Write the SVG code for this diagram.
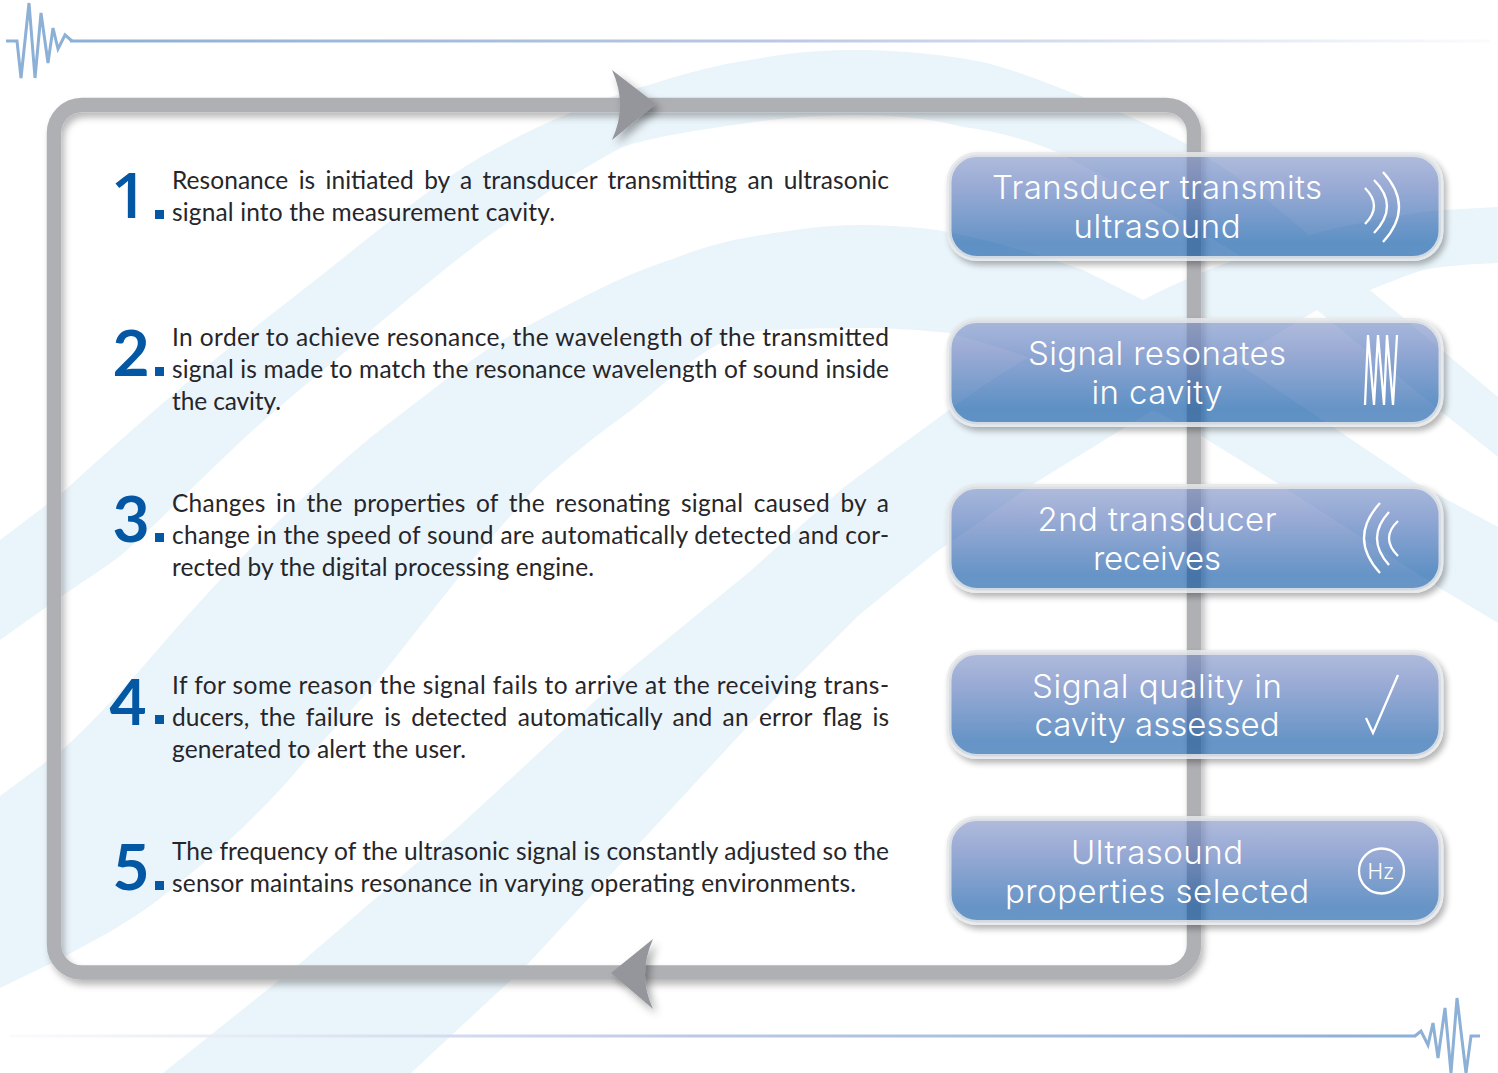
<svg xmlns="http://www.w3.org/2000/svg" width="1498" height="1073" viewBox="0 0 1498 1073">
<defs>
<style>
.bg{fill:#eaf5fb}
.t{font-family:"Lato","Noto Sans",sans-serif;font-size:24.5px;fill:#26262a}
.n{font-family:"Lato","Noto Sans",sans-serif;font-size:64px;font-weight:700;fill:#0457a3;text-anchor:middle}
.b{font-family:"Inter","Lato",sans-serif;font-size:33px;font-weight:300;fill:#fff;text-anchor:middle}
.sq{fill:#0457a3}
.ic{fill:none;stroke:#fff;stroke-width:2.3}
.frame{fill:none;stroke:#afb0b4;stroke-width:14.5}
.box{fill:url(#bf);stroke:#e4e6e8;stroke-opacity:.85;stroke-width:5}
.bs{fill:#000;filter:url(#outer)}
.w{fill:none;stroke:#8cb0d6;stroke-width:3;stroke-linejoin:miter}
</style>
<linearGradient id="bf" x1="0" y1="0" x2="0" y2="1"><stop offset="0" stop-color="#7b8fc5" stop-opacity=".6"/><stop offset=".3" stop-color="#5773b9" stop-opacity=".6"/><stop offset=".85" stop-color="#004da0" stop-opacity=".6"/><stop offset="1" stop-color="#0550a2" stop-opacity=".6"/></linearGradient>
<linearGradient id="l1" gradientUnits="userSpaceOnUse" x1="70" x2="1490" y1="0" y2="0"><stop offset="0" stop-color="#8cb0d6"/><stop offset=".5" stop-color="#bcc8e4"/><stop offset="1" stop-color="#fafbfd"/></linearGradient>
<linearGradient id="l2" gradientUnits="userSpaceOnUse" x1="1416" x2="10" y1="0" y2="0"><stop offset="0" stop-color="#8cb0d6"/><stop offset=".5" stop-color="#bcc8e4"/><stop offset="1" stop-color="#fafbfd"/></linearGradient>
<filter id="sh" x="-20%" y="-20%" width="140%" height="140%"><feDropShadow dx="3" dy="5" stdDeviation="3.5" flood-color="#000" flood-opacity=".28"/></filter>
<filter id="sh2" x="-30%" y="-30%" width="170%" height="170%"><feDropShadow dx="4" dy="5" stdDeviation="4" flood-color="#000" flood-opacity=".35"/></filter>
<filter id="outer" x="-10%" y="-30%" width="120%" height="160%"><feGaussianBlur in="SourceAlpha" stdDeviation="3"/><feOffset dx="3" dy="4" result="o"/><feComponentTransfer in="o" result="p"><feFuncA type="linear" slope=".3"/></feComponentTransfer><feComposite in="p" in2="SourceAlpha" operator="out"/></filter>
</defs>
<rect width="1498" height="1073" fill="#fff"/>
<g id="background">
<path class="bg" d="M0,540 L62,493 C130,430 200,370 268,317 C340,262 400,210 455,173 C490,150 530,130 565,115 C600,100 630,90 655,83 C690,72 720,64 750,60 C790,52 825,50 858,50 C900,50 950,55 987,63 C1020,72 1050,84 1083,97 C1120,112 1150,125 1179,140 C1250,180 1310,235 1370,290 L1498,397 L1498,457 L1443,413 L1317,310 C1270,270 1150,200 1059,153 C1030,140 990,130 963,127 C930,118 890,115 858,115 C820,115 780,118 748,123 C700,130 660,135 622,147 C580,170 540,195 507,223 C460,255 420,290 383,320 C330,365 280,405 239,443 C200,480 160,520 124,553 C105,568 85,580 62,596 L0,640Z"/>
<path class="bg" d="M0,796 L62,750 C90,725 115,697 140,670 C170,635 205,595 239,560 C290,510 345,455 397,417 C440,385 480,350 526,327 C580,298 630,272 670,260 C700,248 725,241 750,237 C790,230 825,225 858,225 C890,225 920,227 949,232 C1000,243 1040,255 1083,270 L1143,300 L1333,427 L1416,483 L1498,527 L1498,623 L1443,590 L1277,483 L1203,437 C1130,395 1050,360 949,333 C920,330 890,328 858,328 C820,328 780,329 748,332 C700,345 660,390 622,417 C590,440 560,465 536,487 L478,553 L373,686 L306,760 C260,815 210,860 158,900 C125,925 95,940 62,958 L0,988Z"/>
<path class="bg" d="M163,1073 L297,966 L455,830 L622,676 L748,573 L844,487 L949,410 C1010,365 1080,325 1143,300 C1200,270 1260,250 1320,232 C1370,220 1420,212 1442,210 L1498,207 L1498,263 C1470,264 1445,266 1423,270 C1405,276 1390,282 1370,290 L1317,310 L1234,360 L1035,483 L935,553 L858,616 L748,726 L526,966 L411,1073Z"/>
</g>
<g id="frame"><rect class="frame" x="54" y="105" width="1140" height="867.5" rx="28" filter="url(#sh)"/></g>
<g id="connectors">
<path d="M612,70 Q628,105 612,140 L656,104Z" fill="#94969c" filter="url(#sh2)"/>
<path d="M653,939 Q637,975 653,1009 L611,973Z" fill="#94969c" filter="url(#sh2)"/>
</g>
<g id="wave-top">
<path d="M70,41 H1490" stroke="url(#l1)" stroke-width="3" fill="none"/>
<path class="w" d="M6,41 H17 L21,78 L29,3 L35,78 L41,13 L48,63 L53,28 L58,49 L65,35 L72,41"/>
</g>
<g id="wave-bottom">
<path d="M10,1036 H1416" stroke="url(#l2)" stroke-width="3" fill="none"/>
<path class="w" d="M1480,1036 H1471 L1466,1073 L1457,998 L1451,1073 L1445,1008 L1438,1058 L1433,1023 L1428,1045 L1421,1031 L1415,1036"/>
</g>
<g id="step-1"><text class="n" style="font-family:'Open Sans',sans-serif;font-weight:600" x="129" y="218">1</text><rect class="sq" x="155" y="210" width="9" height="9"/>
<text class="t" style="word-spacing:4px" x="172" y="189" textLength="717">Resonance is initiated by a transducer transmitting an ultrasonic</text>
<text class="t" x="172" y="221" textLength="383">signal into the measurement cavity.</text></g>
<g id="step-2"><text class="n" x="131" y="376">2</text><rect class="sq" x="155" y="367" width="9" height="9"/>
<text class="t" x="172" y="346" textLength="717">In order to achieve resonance, the wavelength of the transmitted</text>
<text class="t" x="172" y="378" textLength="717">signal is made to match the resonance wavelength of sound inside</text>
<text class="t" x="172" y="410" textLength="109">the cavity.</text></g>
<g id="step-3"><text class="n" x="131" y="542">3</text><rect class="sq" x="155" y="533" width="9" height="9"/>
<text class="t" style="word-spacing:4px" x="172" y="512" textLength="717">Changes in the properties of the resonating signal caused by a</text>
<text class="t" x="172" y="544" textLength="717">change in the speed of sound are automatically detected and cor-</text>
<text class="t" x="172" y="576" textLength="422">rected by the digital processing engine.</text></g>
<g id="step-4"><text class="n" x="128" y="725">4</text><rect class="sq" x="155" y="715" width="9" height="9"/>
<text class="t" x="172" y="694" textLength="717">If for some reason the signal fails to arrive at the receiving trans-</text>
<text class="t" style="word-spacing:4px" x="172" y="726" textLength="717">ducers, the failure is detected automatically and an error flag is</text>
<text class="t" x="172" y="758" textLength="294">generated to alert the user.</text></g>
<g id="step-5"><text class="n" x="131" y="890">5</text><rect class="sq" x="155" y="881" width="9" height="9"/>
<text class="t" x="172" y="860" textLength="717">The frequency of the ultrasonic signal is constantly adjusted so the</text>
<text class="t" x="172" y="892" textLength="684">sensor maintains resonance in varying operating environments.</text></g>
<g id="box-1"><rect class="bs" x="946.5" y="152" width="497" height="109" rx="30"/><rect class="box" x="949" y="154.5" width="492" height="104" rx="28"/>
<text class="b" x="1157" y="199" textLength="330">Transducer transmits</text><text class="b" x="1157" y="238" textLength="167">ultrasound</text>
<path class="ic" d="M1365,188 Q1383,206 1365,224 M1374,180 Q1400,206 1374,233 M1383,172 Q1415,207 1383,242"/></g>
<g id="box-2"><rect class="bs" x="946.5" y="318" width="497" height="109" rx="30"/><rect class="box" x="949" y="320.5" width="492" height="104" rx="28"/>
<text class="b" x="1157" y="365" textLength="258">Signal resonates</text><text class="b" x="1157" y="404" textLength="131">in cavity</text>
<path class="ic" d="M1365,405 L1368,335 L1374,405 L1378,335 L1384,405 L1387,335 L1393,405 L1397,335"/></g>
<g id="box-3"><rect class="bs" x="946.5" y="484" width="497" height="109" rx="30"/><rect class="box" x="949" y="486.5" width="492" height="104" rx="28"/>
<text class="b" x="1157" y="531" textLength="239">2nd transducer</text><text class="b" x="1157" y="570" textLength="128">receives</text>
<path class="ic" d="M1398,521 Q1380,538 1398,556 M1389,512 Q1365,538 1389,565 M1380,503 Q1348,538 1380,573"/></g>
<g id="box-4"><rect class="bs" x="946.5" y="650" width="497" height="109" rx="30"/><rect class="box" x="949" y="652.5" width="492" height="104" rx="28"/>
<text class="b" x="1157" y="698" textLength="250">Signal quality in</text><text class="b" x="1157" y="736" textLength="245">cavity assessed</text>
<path class="ic" d="M1366,718 L1373,733 L1398,675"/></g>
<g id="box-5"><rect class="bs" x="946.5" y="816" width="497" height="109" rx="30"/><rect class="box" x="949" y="818.5" width="492" height="104" rx="28"/>
<text class="b" x="1157" y="864" textLength="172">Ultrasound</text><text class="b" x="1157" y="903" textLength="304">properties selected</text>
<circle class="ic" cx="1381.5" cy="871" r="22.5"/>
<text x="1381" y="879" text-anchor="middle" font-family="Inter,Lato,sans-serif" font-weight="300" font-size="21" fill="#fff">Hz</text></g>
</svg>
